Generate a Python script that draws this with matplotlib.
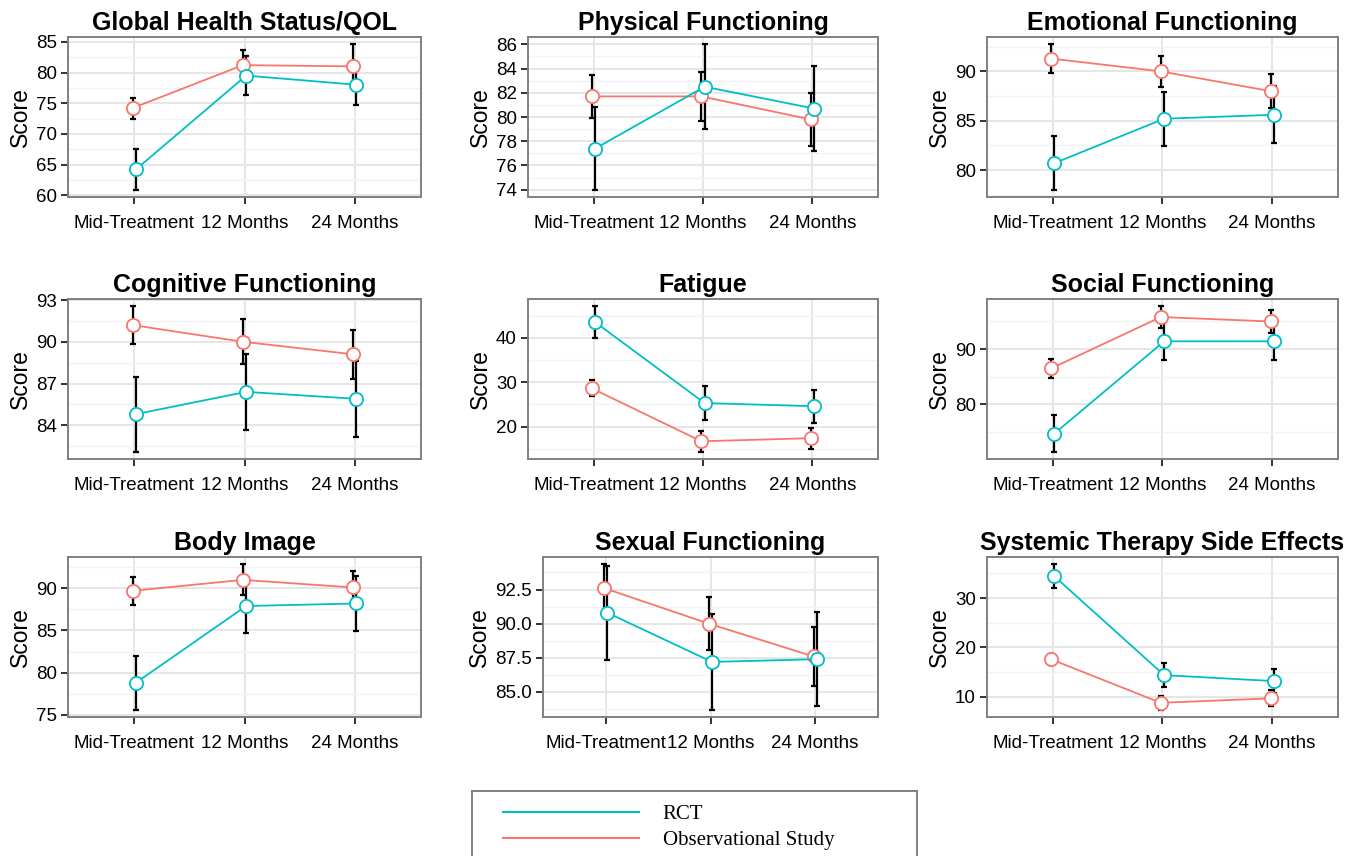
import matplotlib
matplotlib.use('Agg')
import matplotlib.pyplot as plt
from matplotlib.ticker import MultipleLocator, FormatStrFormatter
from matplotlib.lines import Line2D

plt.rcParams['font.family'] = ['Liberation Sans', 'DejaVu Sans']

# 데이터
timepoints = ['Mid-Treatment', '12 Months', '24 Months']
titles = ['Global Health Status/QOL', 'Physical Functioning', 'Emotional Functioning',
          'Cognitive Functioning', 'Fatigue', 'Social Functioning',
          'Body Image', 'Sexual Functioning', 'Systemic Therapy Side Effects']

rct_mean = [[64.2, 79.5, 78.0], [77.4, 82.5, 80.7], [80.7, 85.2, 85.6],
            [84.8, 86.4, 85.9], [43.5, 25.3, 24.6], [74.7, 91.4, 91.4],
            [78.8, 87.9, 88.2], [90.8, 87.2, 87.4], [34.4, 14.4, 13.2]]
rct_err = [[3.3, 3.2, 3.3], [3.4, 3.5, 3.5], [2.7, 2.75, 2.9],
           [2.7, 2.75, 2.75], [3.6, 3.85, 3.75], [3.3, 3.45, 3.4],
           [3.2, 3.25, 3.25], [3.45, 3.5, 3.45], [2.45, 2.4, 2.35]]
obs_mean = [[74.2, 81.2, 81.0], [81.7, 81.7, 79.8], [91.3, 90.0, 88.0],
            [91.2, 90.0, 89.1], [28.6, 16.7, 17.4], [86.5, 95.8, 95.0],
            [89.7, 91.0, 90.1], [92.6, 90.0, 87.6], [17.6, 8.8, 9.7]]
obs_err = [[1.7, 2.5, 3.6], [1.8, 2.0, 2.2], [1.45, 1.55, 1.75],
           [1.35, 1.6, 1.75], [1.8, 2.35, 2.35], [1.75, 1.95, 2.1],
           [1.65, 1.85, 1.9], [1.75, 1.93, 2.15], [1.1, 1.4, 1.6]]
major_step = [5, 2, 5, 3, 10, 10, 5, 2.5, 10]

rct_color = '#00BFC4'
obs_color = '#F8766D'

W, H = 1369, 856
fig = plt.figure(figsize=(W / 100, H / 100), dpi=100)

# 패널 위치 (픽셀: left, right, top, bottom)
cols = [(68, 421), (528, 878), (987, 1338)]
rows = [(37, 197), (299, 459), (557, 717)]


def px_rect(l, r, t, b):
    return [l / W, 1 - b / H, (r - l) / W, (b - t) / H]


x = [1, 2, 3]
for i in range(9):
    r, c = divmod(i, 3)
    l, rr = cols[c]
    if i == 7:
        l = 543
    t, b = rows[r]
    ax = fig.add_axes(px_rect(l, rr, t, b))

    xr = [v + 0.015 for v in x]
    xo = [v - 0.015 for v in x]

    ax.errorbar(xo, obs_mean[i], yerr=obs_err[i], fmt='none', ecolor='black',
                elinewidth=1.6, capsize=2.4, capthick=1.6, zorder=3)
    ax.errorbar(xr, rct_mean[i], yerr=rct_err[i], fmt='none', ecolor='black',
                elinewidth=1.6, capsize=2.4, capthick=1.6, zorder=3)
    ax.plot(xo, obs_mean[i], '-', color=obs_color, lw=1.3, zorder=4)
    ax.plot(xo, obs_mean[i], 'o', mfc='white', mec=obs_color, ms=9.5, mew=1.3, zorder=5)
    ax.plot(xr, rct_mean[i], '-', color=rct_color, lw=1.3, zorder=6)
    ax.plot(xr, rct_mean[i], 'o', mfc='white', mec=rct_color, ms=9.5, mew=1.3, zorder=7)

    lo = min(min(m - e for m, e in zip(rct_mean[i], rct_err[i])),
             min(m - e for m, e in zip(obs_mean[i], obs_err[i])))
    hi = max(max(m + e for m, e in zip(rct_mean[i], rct_err[i])),
             max(m + e for m, e in zip(obs_mean[i], obs_err[i])))
    pad = (hi - lo) * 0.05
    ax.set_ylim(lo - pad, hi + pad)
    ax.set_xlim(0.4, 3.6)

    ax.yaxis.set_major_locator(MultipleLocator(major_step[i]))
    ax.yaxis.set_minor_locator(MultipleLocator(major_step[i] / 2))
    if i == 7:
        ax.yaxis.set_major_formatter(FormatStrFormatter('%.1f'))
    ax.set_xticks(x)
    ax.set_xticklabels(timepoints)

    ax.grid(which='major', color='#E6E6E6', lw=1.4, zorder=0)
    ax.grid(which='minor', axis='y', color='#F3F3F3', lw=1.0, zorder=0)
    ax.set_axisbelow(True)

    for s in ax.spines.values():
        s.set_color('#808080')
        s.set_linewidth(1.4)
    ax.tick_params(which='major', length=5, width=1.4, color='#333333',
                   labelsize=13.5, labelcolor='black')
    ax.tick_params(axis='x', pad=8)
    ax.tick_params(axis='y', pad=3)
    ax.tick_params(which='minor', length=0)

    ax.set_ylabel('Score', fontsize=16.5, labelpad=3)
    ax.set_title(titles[i], fontsize=18, fontweight='bold', pad=5)

# 범례 (아래쪽이 잘린 상자)
lax = fig.add_axes(px_rect(472, 917, 791, 890))
lax.set_xticks([])
lax.set_yticks([])
for s in lax.spines.values():
    s.set_color('#808080')
    s.set_linewidth(1.4)
handles = [Line2D([], [], color=rct_color, lw=1.5),
           Line2D([], [], color=obs_color, lw=1.5)]
lax.legend(handles, ['RCT', 'Observational Study'], loc='upper left',
           bbox_to_anchor=(0.07, 0.86), frameon=False, handlelength=6.5,
           handletextpad=1.15, labelspacing=0.3, borderpad=0, borderaxespad=0,
           prop={'family': 'Liberation Serif', 'size': 15})

fig.savefig('out.png', dpi=100)
